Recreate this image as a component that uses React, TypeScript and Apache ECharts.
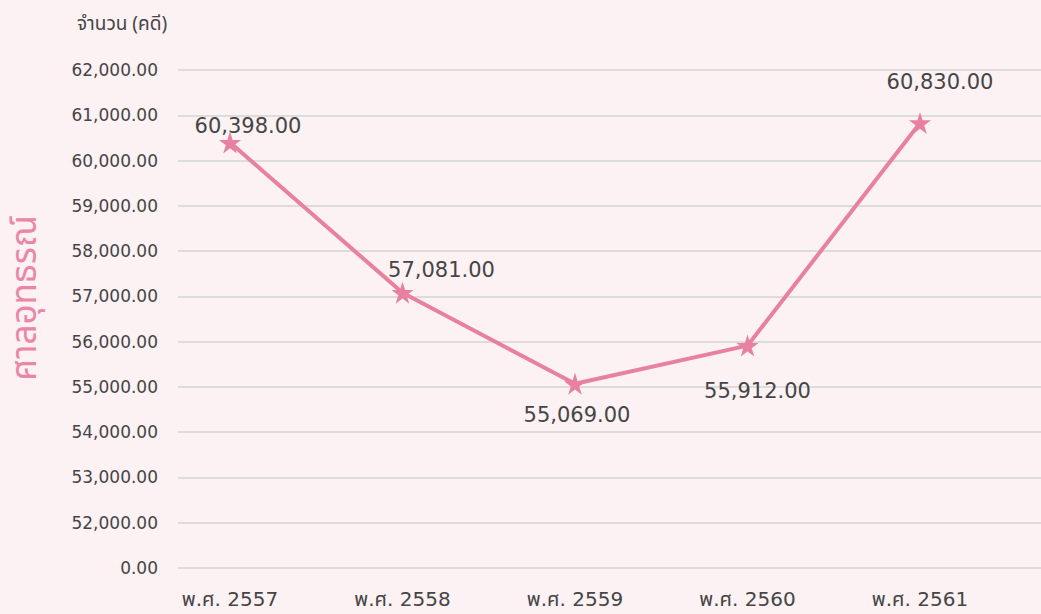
import React, { useEffect, useRef } from "react";
import * as echarts from "echarts";

const categories = ["พ.ศ. 2557", "พ.ศ. 2558", "พ.ศ. 2559", "พ.ศ. 2560", "พ.ศ. 2561"];
const values = [60398, 57081, 55069, 55912, 60830];
const labelOffsets: [number, number][] = [[18, 13], [39, 7], [2, 2], [10, 16], [20, -11]];
const labelPositions = ["top", "top", "bottom", "bottom", "top"];
const yMin = 51000;
const yMax = 62000;
const yStep = 1000;
const yAxisName = "จำนวน (คดี)";
const sideTitle = "ศาลอุทธรณ์";

const FONT = "'DejaVu Sans', 'Noto Sans', 'Noto Sans Thai', sans-serif";
const THAI_FONT = "'Noto Sans', 'Noto Sans Thai', sans-serif";
const TEXT = "#454545";

function fmt(v: number): string {
  if (v === yMin) return "0.00";
  return v.toLocaleString("en-US", { minimumFractionDigits: 2, maximumFractionDigits: 2 });
}

export default function App() {
  const ref = useRef<HTMLDivElement>(null);
  useEffect(() => {
    if (!ref.current) return;
    const chart = echarts.init(ref.current, undefined, { renderer: "svg" });
    const top = 70;
    const bottom = 46;
    chart.setOption({
      animation: false,
      backgroundColor: "#fcf1f3",
      grid: [
        { left: 178, right: 0, top, bottom, containLabel: false },
        { left: 230, right: 121, top, bottom, containLabel: false },
      ],
      xAxis: [
        { type: "category", gridIndex: 0, data: categories, show: false },
        {
          type: "category",
          gridIndex: 1,
          data: categories,
          boundaryGap: false,
          axisLine: { show: false },
          axisTick: { show: false },
          axisLabel: { color: TEXT, fontSize: 20, fontFamily: FONT, margin: 21 },
        },
      ],
      yAxis: [
        {
          type: "value",
          gridIndex: 0,
          min: yMin,
          max: yMax,
          interval: yStep,
          name: yAxisName,
          nameLocation: "end",
          nameGap: 38,
          nameTextStyle: { color: TEXT, fontSize: 19, fontFamily: THAI_FONT, align: "center", padding: [0, 0, 0, -112] },
          axisLine: { show: false },
          axisTick: { show: false },
          axisLabel: { color: TEXT, fontSize: 17, fontFamily: FONT, margin: 20, formatter: (v: number) => fmt(v) },
          splitLine: { show: true, lineStyle: { color: "#dcdcdc", width: 2 } },
        },
        {
          type: "value",
          gridIndex: 1,
          min: yMin,
          max: yMax,
          interval: yStep,
          show: false,
          splitLine: { show: false },
        },
      ],
      graphic: [
        {
          type: "text",
          x: 22,
          y: 298,
          rotation: Math.PI / 2,
          style: {
            text: sideTitle,
            fill: "#ea86a6",
            fontSize: 35,
            fontFamily: THAI_FONT,
            align: "center",
            verticalAlign: "middle",
          },
        },
      ],
      series: [
        {
          type: "line",
          xAxisIndex: 1,
          yAxisIndex: 1,
          data: values.map((v, i) => ({
            value: v,
            label: { position: labelPositions[i], offset: labelOffsets[i] },
          })),
          symbol: "path://M50,0 L61.8,36.2 L100,36.2 L69.1,58.8 L80.9,95.1 L50,72.7 L19.1,95.1 L30.9,58.8 L0,36.2 L38.2,36.2 Z",
          symbolSize: 22,
          itemStyle: { color: "#e8819f" },
          lineStyle: { color: "#e8819f", width: 4 },
          label: {
            show: true,
            color: TEXT,
            fontSize: 21,
            fontFamily: FONT,
            distance: 8,
            formatter: (p: any) => fmt(p.value),
          },
        },
      ],
    });
    return () => chart.dispose();
  }, []);
  return <div ref={ref} style={{ position: "fixed", left: 0, top: 0, width: 1041, height: 614 }} />;
}
